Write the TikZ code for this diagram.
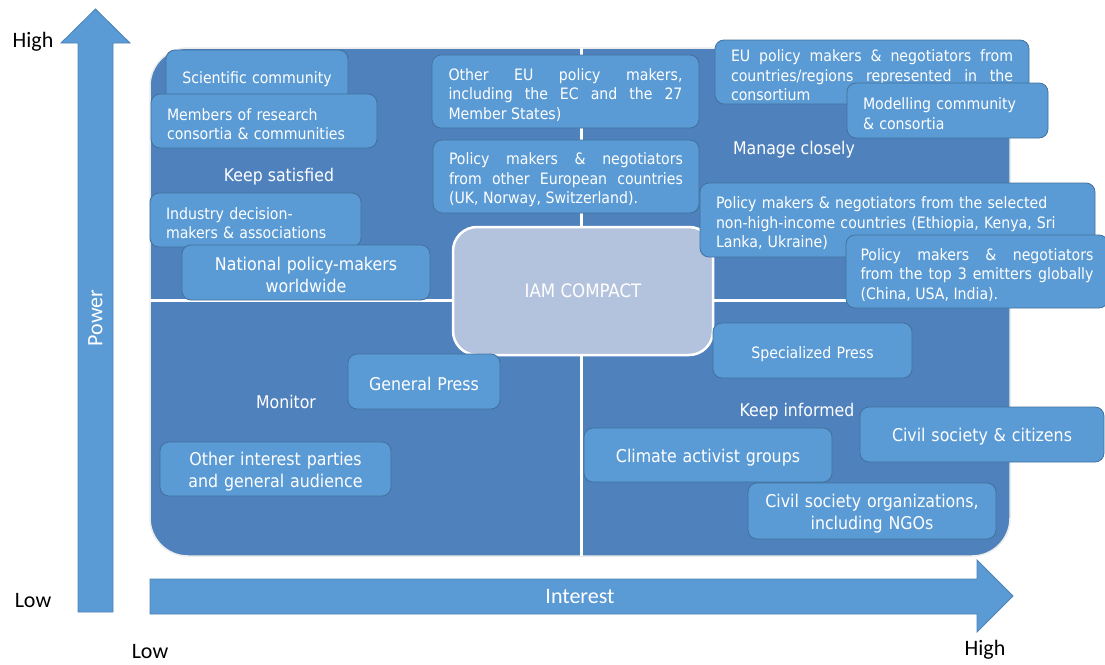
\documentclass[tikz,border=0pt]{standalone}
\usepackage{fontspec}
\newfontfamily\tahoma{DejaVu Sans Condensed}
\newfontfamily\calib{Carlito}
\definecolor{quadblue}{RGB}{79,129,189}
\definecolor{boxblue}{RGB}{91,155,213}
\definecolor{boxedge}{RGB}{65,113,156}
\definecolor{coreblue}{RGB}{180,195,221}
\begin{document}
\begin{tikzpicture}[
    x=1pt, y=-1pt,
  grp/.style={draw=boxedge, fill=boxblue, rounded corners=9pt, text=white, inner sep=0pt, line width=0.8pt,
    execute at begin node={\rule{0pt}{18.5pt}}},
  sml/.style={font=\tahoma\fontsize{15.7}{19.5}\selectfont},
  big/.style={font=\tahoma\fontsize{17.6}{22}\selectfont},
  jst/.style={align=justify, execute at begin node={\tolerance=10000\hbadness=10000}},
  lbl/.style={text=white, font=\tahoma\fontsize{17.5}{21}\selectfont},
  core/.style={draw=white, line width=2.5pt, fill=coreblue, rounded corners=24pt, text=white,
    minimum width=260pt, minimum height=128pt, font=\tahoma\fontsize{18.5}{22}\selectfont},
  axl/.style={font=\calib\fontsize{22}{26}\selectfont},
  arr/.style={fill=boxblue, draw=boxedge!60!boxblue, line width=0.8pt}
]
\useasboundingbox (0,0) rectangle (1105,664);

% --- quadrant panel ---
\fill[quadblue, draw=black!8, line width=1.5pt, rounded corners=38pt] (150,48) rectangle (1010,556);
\draw[white, line width=3pt] (581,48) -- (581,556);
\draw[white, line width=3pt] (150,300) -- (1010,300);
\node[core] (iam) at (583,291) {IAM COMPACT};

% --- keep satisfied ---
\node[grp, sml, minimum width=182pt, minimum height=52pt, text width=160pt, align=center] (sci) at (257,76) {Scientific community};
\node[grp, sml, minimum width=226pt, minimum height=54pt, text width=194pt, align=left] (members) at (264,121) {Members of research\\consortia \& communities};
\node[grp, sml, minimum width=211pt, minimum height=54pt, text width=179pt, align=left] (industry) at (255.5,220) {Industry decision-\\makers \& associations};
\node[grp, big, minimum width=248pt, minimum height=55pt, text width=230pt, align=center] (national) at (306,272.5) {National policy-makers\\worldwide};
\node[grp, sml, jst, minimum width=267pt, minimum height=73pt, text width=234pt] (othereu) at (565.5,91.5) {Other EU policy makers,\linebreak including the EC and the 27\linebreak Member States)};
\node[grp, sml, jst, minimum width=266pt, minimum height=73pt, text width=234pt] (europe) at (566,176.5) {Policy makers \& negotiators\linebreak from other European countries\linebreak (UK, Norway, Switzerland).};

% --- manage closely ---
\node[grp, sml, jst, minimum width=314pt, minimum height=64pt, text width=282pt] (euconsort) at (872,72) {EU policy makers \& negotiators from\linebreak countries/regions represented in the\linebreak consortium};
\node[grp, sml, minimum width=201pt, minimum height=55pt, text width=169pt, align=left] (modelling) at (947.5,110.5) {Modelling community\\\& consortia};
\node[grp, sml, minimum width=395pt, minimum height=74pt, text width=363pt, align=left] (nonhigh) at (897.5,220) {Policy makers \& negotiators from the selected\\non-high-income countries (Ethiopia, Kenya, Sri\\Lanka, Ukraine)};
\node[grp, sml, jst, minimum width=262pt, minimum height=73pt, text width=233pt] (emitters) at (977,271.5) {Policy makers \& negotiators\linebreak from the top 3 emitters globally\linebreak (China, USA, India).};

% --- monitor / keep informed ---
\node[grp, sml, minimum width=199pt, minimum height=55pt, text width=180pt, align=center] (specpress) at (812.5,350.5) {Specialized Press};
\node[grp, big, minimum width=152pt, minimum height=55pt, text width=140pt, align=center] (genpress) at (424,381.5) {General Press};
\node[grp, big, minimum width=231pt, minimum height=54pt, text width=215pt, align=center] (parties) at (275.5,469) {Other interest parties\\and general audience};
\node[grp, big, minimum width=248pt, minimum height=54pt, text width=230pt, align=center] (climate) at (708,455) {Climate activist groups};
\node[grp, big, minimum width=244pt, minimum height=55pt, text width=230pt, align=center] (citizens) at (982,434.5) {Civil society \& citizens};
\node[grp, big, minimum width=248pt, minimum height=56pt, text width=230pt, align=center] (ngo) at (872,511) {Civil society organizations,\\including NGOs};

\node[lbl] (satisfied) at (279,177) {Keep satisfied};
\node[lbl] (closely) at (794,150) {Manage closely};
\node[lbl] (monitor) at (286,402) {Monitor};
\node[lbl] (informed) at (797,412) {Keep informed};

% --- axes ---
\draw[arr] (78,612) -- (78,43) -- (61,43) -- (95.5,9) -- (130,43) -- (113,43) -- (113,612) -- cycle;
\draw[arr] (150,579) -- (977,579) -- (977,560) -- (1013,596) -- (977,632) -- (977,614) -- (150,614) -- cycle;
\node[axl, text=white, rotate=90] (power) at (95.5,318) {Power};
\node[axl, text=white] (interest) at (580,597) {Interest};
\node[axl] (phigh) at (33,42) {High};
\node[axl] (plow) at (33,601) {Low};
\node[axl] (ilow) at (150,652) {Low};
\node[axl] (ihigh) at (985,650) {High};
\end{tikzpicture}
\end{document}
